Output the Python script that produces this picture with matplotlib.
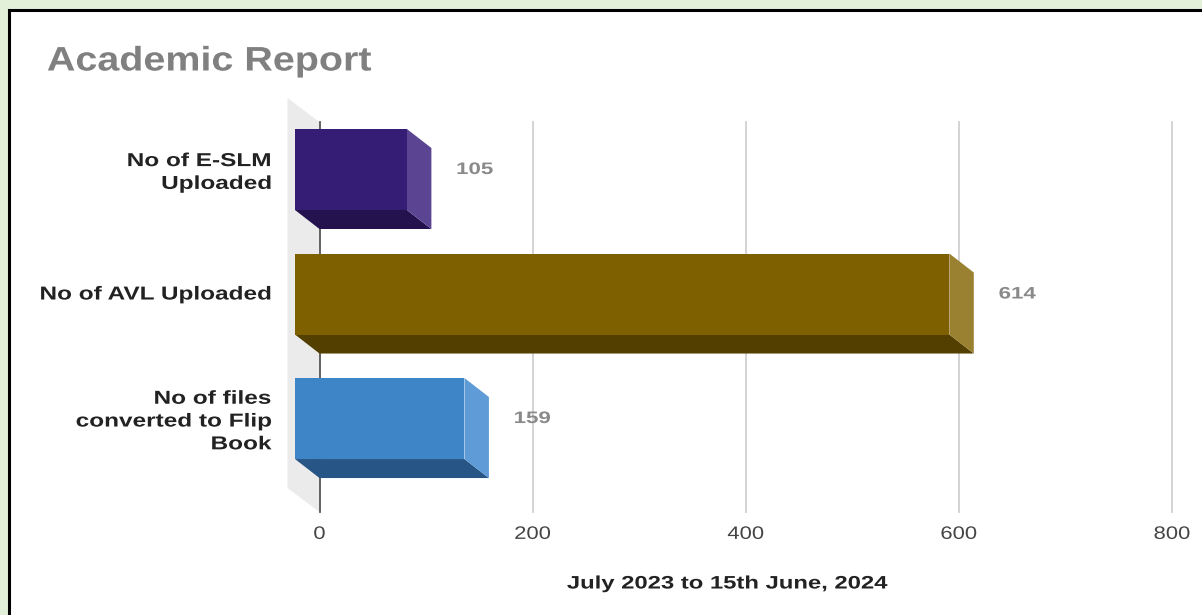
import matplotlib
matplotlib.use("Agg")
import matplotlib.pyplot as plt
import matplotlib.patheffects as pe
from matplotlib.patches import Rectangle
from matplotlib.transforms import Affine2D

plt.rcParams['font.family'] = ['Liberation Sans', 'DejaVu Sans']

# Data
categories = ["No of E-SLM\nUploaded", "No of AVL Uploaded", "No of files\nconverted to Flip\nBook"]
values = [105, 614, 159]
x_ticks = [0, 200, 400, 600, 800]

# Colours for each bar: front, side, underside
front_colors = ["#351c75", "#7f6000", "#3d85c6"]
side_colors = ["#5b4593", "#9a8132", "#5f9bd6"]
under_colors = ["#24124f", "#533f00", "#275686"]


class WideText(pe.AbstractPathEffect):
    """Widen each line of text about its left, centre or right edge."""

    def __init__(self, sx, anchor="left"):
        super().__init__()
        self.sx = sx
        self.anchor = anchor

    def draw_path(self, renderer, gc, tpath, affine, rgbFace=None):
        ext = tpath.get_extents()
        x = {"left": ext.x0, "center": (ext.x0 + ext.x1) / 2, "right": ext.x1}[self.anchor]
        wide = Affine2D().translate(-x, 0).scale(self.sx, 1).translate(x, 0)
        renderer.draw_path(gc, tpath, wide + affine, rgbFace)


W, H = 1202, 615
fig = plt.figure(figsize=(W / 100, H / 100), dpi=100, facecolor="#e2efd9")

# White panel with black top and left rules
fig.patches.append(Rectangle((9 / W, -0.05), 1, 1.05 - 10 / H, transform=fig.transFigure,
                             facecolor="white", edgecolor="black", linewidth=2.2, zorder=-1))

# Axes cover the wall height and run from 0 to 800
left, right, top, bottom = 319.5, 1172, 122, 512
ax = fig.add_axes([left / W, 1 - bottom / H, (right - left) / W, (bottom - top) / H])
ax.set_xlim(0, 800)
ax.set_ylim(2.598, -0.534)
ax.patch.set_alpha(0)
for s in ax.spines.values():
    s.set_visible(False)

# 3D look: the front face sits down-left of the back plane
px_x = (right - left) / 800
px_y = 124.5
depth_x = 24.5 / px_x
depth_y = 19 / px_y
bar_h = 81 / px_y

# Side wall left of zero
wall_x = 32 / px_x
wall_y = 24 / px_y
ylo, yhi = ax.get_ylim()
ax.fill([0, -wall_x, -wall_x, 0], [yhi, yhi - wall_y, ylo - wall_y, ylo],
        color="#ebebeb", lw=0, clip_on=False, zorder=1)

# Gridlines and zero line
for t in x_ticks[1:]:
    ax.plot([t, t], [ylo, yhi], color="#d0d0d0", lw=1.3, zorder=1, clip_on=False)
ax.plot([0, 0], [ylo, yhi], color="#555555", lw=1.3, zorder=2, clip_on=False)

for i, v in enumerate(values):
    y0 = i - bar_h / 2
    y1 = i + bar_h / 2
    # underside
    ax.fill([-depth_x, v - depth_x, v, 0], [y1 - depth_y, y1 - depth_y, y1, y1],
            color=under_colors[i], lw=0, zorder=3, clip_on=False)
    # right side
    ax.fill([v - depth_x, v, v, v - depth_x], [y0 - depth_y, y0, y1, y1 - depth_y],
            color=side_colors[i], lw=0, zorder=3, clip_on=False)
    # front
    ax.fill([-depth_x, v - depth_x, v - depth_x, -depth_x],
            [y0 - depth_y, y0 - depth_y, y1 - depth_y, y1 - depth_y],
            color=front_colors[i], lw=0, zorder=4, clip_on=False)
    # value label
    ax.annotate(str(v), xy=(v, i), xytext=(25, 19), textcoords="offset pixels",
                ha="left", va="center", fontsize=12, fontweight="bold", color="#8a8a8a",
                path_effects=[WideText(1.34, "left")])
    # category label, wrapped ones sit a little lower
    yoff = 15.5 if "\n" in categories[i] else 18
    ax.annotate(categories[i], xy=(0, i), xytext=(-48, yoff), textcoords="offset pixels",
                ha="right", va="center", fontsize=13.5, fontweight="bold", color="#222222",
                linespacing=1.445, multialignment="right",
                path_effects=[WideText(1.3, "right")])

ax.set_yticks([])
ax.set_xticks(x_ticks)
ax.tick_params(axis="x", length=0, pad=10, labelsize=13, labelcolor="#444444")
for lab in ax.get_xticklabels():
    lab.set_path_effects([WideText(1.22, "center")])

fig.text(47 / W, 1 - 62 / H, "Academic Report", fontsize=24.5, fontweight="bold",
         color="#808080", ha="left", va="center", path_effects=[WideText(1.16, "left")])
fig.text(727 / W, 1 - 584 / H, "July 2023 to 15th June, 2024", fontsize=13, fontweight="bold",
         color="#222222", ha="center", va="center", path_effects=[WideText(1.32, "center")])

fig.savefig("out.png", dpi=100, facecolor=fig.get_facecolor())
